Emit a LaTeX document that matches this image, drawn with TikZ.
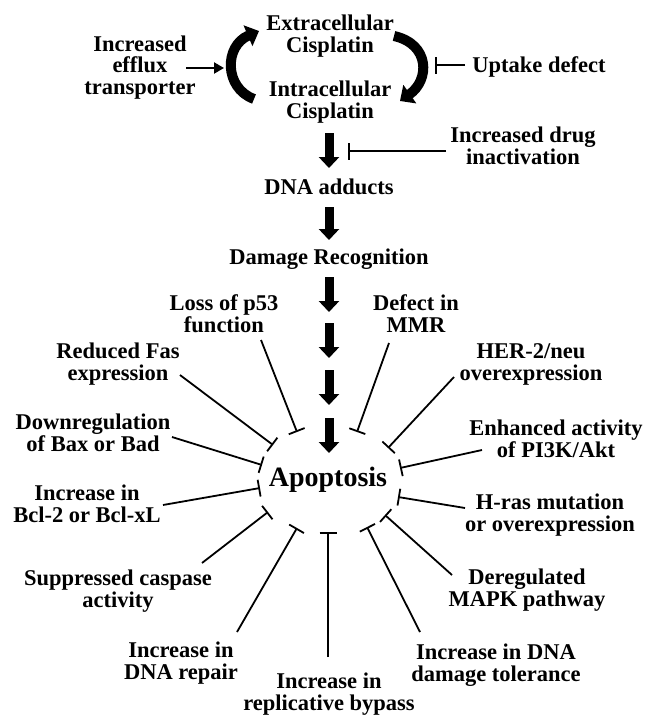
\documentclass[tikz,border=0pt]{standalone}
\usepackage{fontspec}
\setmainfont{Liberation Serif}
\usetikzlibrary{arrows.meta}
\begin{document}
\begin{tikzpicture}[x=1pt,y=-1pt,
  lbl/.style={font=\fontsize{22.5}{21.5}\selectfont\bfseries, align=center, anchor=base, inner sep=0pt},
  big/.style={font=\fontsize{28}{28}\selectfont\bfseries, anchor=base, inner sep=0pt},
  fat/.style={line width=9pt, -{Triangle[length=11pt,width=20pt]}},
  curv/.style={line width=10pt, -{Triangle[length=12pt,width=22pt]}},
  inh/.style={line width=1.8pt, -{Bar[width=17pt]}},
  thinarr/.style={line width=2.2pt, -{Triangle[length=10pt,width=11pt]}}]
\useasboundingbox (0,0) rectangle (653,715);

% texts (anchor = baseline of the last line)
\node[lbl] (extra) at (330,52) {Extracellular\\Cisplatin};
\node[lbl] (intra) at (330,118) {Intracellular\\Cisplatin};
\node[lbl] (efflux) at (140,94) {Increased\\efflux\\transporter};
\node[lbl] (uptake) at (539,72) {Uptake defect};
\node[lbl] (inact) at (523,164) {Increased drug\\inactivation};
\node[lbl] (dna) at (329,194) {DNA adducts};
\node[lbl] (damage) at (329,264) {Damage Recognition};
\node[big] (apo) at (328,486) {Apoptosis};
\node[lbl] (p53) at (224,332) {Loss of p53\\function};
\node[lbl] (mmr) at (416,332) {Defect in\\MMR};
\node[lbl] (fas) at (118,380) {Reduced Fas\\expression};
\node[lbl] (her) at (531,380) {HER-2/neu\\overexpression};
\node[lbl] (bax) at (93,451) {Downregulation\\of Bax or Bad};
\node[lbl] (bcl) at (87,522) {Increase in\\Bcl-2 or Bcl-xL};
\node[lbl] (casp) at (118,607) {Suppressed caspase\\activity};
\node[lbl] (repair) at (181,679) {Increase in\\DNA repair};
\node[lbl] (bypass) at (329,710) {Increase in\\replicative bypass};
\node[lbl] (toler) at (496,681) {Increase in DNA\\damage tolerance};
\node[lbl] (mapk) at (527,606) {Deregulated\\MAPK pathway};
\node[lbl] (hras) at (550,531) {H-ras mutation\\or overexpression};
\node[lbl] (pi3k) at (556,457) {Enhanced activity\\of PI3K/Akt};

% cycle arrows
\coordinate (cl1) at (254,99);
\coordinate (cl2) at (259,31);
\coordinate (cr1) at (394,36);
\coordinate (cr2) at (400,101);
\draw[curv] (cl1) .. controls (224,88) and (224,46) .. (cl2);
\draw[curv] (cr1) .. controls (430,44) and (430,80) .. (cr2);

% efflux arrow
\coordinate (ef1) at (186,68);
\coordinate (ef2) at (224,68);
\draw[thinarr] (ef1) -- (ef2);

% uptake inhibitor
\coordinate (up1) at (465,65);
\coordinate (up2) at (435,65);
\draw[inh] (up1) -- (up2);

% drug inactivation inhibitor
\coordinate (in1) at (446,151);
\coordinate (in2) at (348,151);
\draw[inh] (in1) -- (in2);

% main thick arrows
\foreach \i/\a/\b in {1/133/168, 2/207/240, 3/277/312, 4/323/358, 5/370/405, 6/418/453}{
  \coordinate (m\i s) at (329,\a);
  \coordinate (m\i e) at (329,\b);
  \draw[fat] (m\i s) -- (m\i e);
}

% inhibitors on apoptosis
\foreach \n/\sx/\sy/\ex/\ey in {
  p53/261/340/297/432,
  mmr/389/343/357/432,
  fas/180/375/273/445,
  her/454/377/388/448,
  bax/172/437/262/465,
  bcl/163/505/260/488,
  casp/202/563/268/512,
  repair/237/632/297/528,
  bypass/328/657/328/532,
  toler/420/632/367/527,
  mapk/452/575/385/515,
  hras/465/508/398/497,
  pi3k/482/450/400/468}{
  \coordinate (\n s) at (\sx,\sy);
  \coordinate (\n e) at (\ex,\ey);
  \draw[inh] (\n s) -- (\n e);
}
\end{tikzpicture}
\end{document}
